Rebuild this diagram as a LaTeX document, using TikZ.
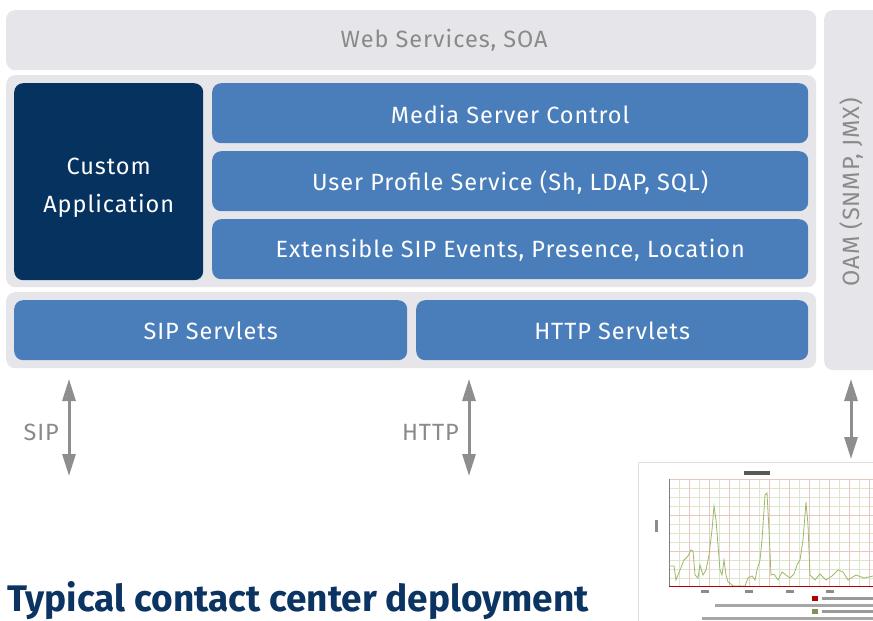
\documentclass[tikz,border=0pt]{standalone}
\usepackage{fontspec}
\setmainfont{Fira Sans}
\newfontfamily\dinlike[LetterSpace=4]{Fira Sans}
\usetikzlibrary{arrows.meta}
\definecolor{lgray}{HTML}{E6E5EA}
\definecolor{navy}{HTML}{05325F}
\definecolor{midblue}{HTML}{4A7EBB}
\definecolor{txtgray}{HTML}{8A8A8A}
\definecolor{arrgray}{HTML}{8E8E8E}
\definecolor{titleblue}{HTML}{0B3462}
\definecolor{gridred}{HTML}{E8C8C0}
\definecolor{gridgreen}{HTML}{DCE6CC}
\definecolor{plotgreen}{HTML}{9CB86A}
\tikzset{
  panel/.style={fill=lgray, rounded corners=9pt, anchor=north west, inner sep=0pt},
  bluebox/.style={fill=midblue, rounded corners=9pt, anchor=north west, inner sep=0pt},
  navybox/.style={fill=navy, rounded corners=9pt, anchor=north west, inner sep=0pt},
  lbl/.style={text=txtgray, font=\dinlike\fontsize{23.5}{28}\selectfont, inner sep=0pt},
  wlbl/.style={text=white, font=\dinlike\fontsize{23.5}{28}\selectfont, inner sep=0pt},
  arr/.style={draw=arrgray, line width=3pt, {Triangle[width=13pt,length=22pt]}-{Triangle[width=13pt,length=22pt]}},
}
\begin{document}
\begin{tikzpicture}[x=1pt,y=-1pt]
\clip (0,0) rectangle (873,621);
\fill[white] (0,0) rectangle (873,621);
% panels
\node[panel, minimum width=810pt, minimum height=60pt] (web) at (6,10) {};
\node[lbl] at ([xshift=33pt]web.center) {Web Services, SOA};
\node[panel, minimum width=810pt, minimum height=212pt] (mid) at (6,75) {};
\node[panel, minimum width=810pt, minimum height=76pt] (low) at (6,292) {};
\node[panel, minimum width=70pt, minimum height=360pt] (oam) at (824,10) {};
\node[lbl, rotate=90] at (852,192) {OAM (SNMP, JMX)};
% inner boxes
\node[navybox, minimum width=189pt, minimum height=197pt] (custom) at (14,83) {};
\node[wlbl, align=center, font=\dinlike\fontsize{23.5}{38}\selectfont] at ([yshift=-6pt]custom.center) {Custom\\Application};
\node[bluebox, minimum width=596pt, minimum height=60pt] (msc) at (212,83) {};
\node[wlbl] at ([yshift=-1pt]msc.center) {Media Server Control};
\node[bluebox, minimum width=596pt, minimum height=60pt] (ups) at (212,151) {};
\node[wlbl] at ([yshift=-1pt]ups.center) {User Profile Service (Sh, LDAP, SQL)};
\node[bluebox, minimum width=596pt, minimum height=60pt] (ext) at (212,219) {};
\node[wlbl] at ([yshift=-1pt]ext.center) {Extensible SIP Events, Presence, Location};
\node[bluebox, minimum width=393pt, minimum height=60pt] (sips) at (14,300) {};
\node[wlbl] at ([yshift=-1pt]sips.center) {SIP Servlets};
\node[bluebox, minimum width=392pt, minimum height=60pt] (https) at (416,300) {};
\node[wlbl] at ([yshift=-1pt]https.center) {HTTP Servlets};
% arrows
\coordinate (sipT) at (69,379);
\coordinate (sipB) at (69,476);
\coordinate (httpT) at (469,379);
\coordinate (httpB) at (469,476);
\coordinate (oamT) at (851,379);
\coordinate (oamB) at (851,459);
\draw[arr] (sipT) -- (sipB);
\draw[arr] (httpT) -- (httpB);
\draw[arr] (oamT) -- (oamB);
\node[lbl, anchor=east] at (59,432) {SIP};
\node[lbl, anchor=east] at (459,432) {HTTP};
% chart screenshot
\fill[white] (638,462) rectangle (880,625);
\draw[black!12, line width=1pt] (638,462) -- (880,462);
\draw[black!12, line width=1pt] (638,462) -- (638,625);
\foreach \y in {488,497,506,515,524,533,542,551,560,569,578} \draw[gridgreen, line width=0.6pt] (669,\y) -- (880,\y);
\foreach \x in {679,699,719,739,759,779,799,819,839,859} \draw[gridgreen, line width=0.6pt] (\x,479) -- (\x,586);
\foreach \x in {669,689,709,729,749,769,789,809,829,849,869} \draw[gridred, line width=0.6pt] (\x,479) -- (\x,586);
\foreach \y in {479,515,551} \draw[gridred, line width=0.6pt] (669,\y) -- (880,\y);
\draw[black!50, line width=0.6pt] (669,479) -- (669,586);
\draw[plotgreen, line width=0.8pt] (669,566) -- (674,566) -- (676,580) -- (680,570) -- (684,560) -- (688,556) -- (691,550) -- (693,551) -- (695,575) -- (698,578) -- (700,565) -- (703,575) -- (706,570) -- (709,555) -- (712,530) -- (714,506) -- (716,520) -- (718,545) -- (720,570) -- (722,575) -- (724,560) -- (726,575) -- (728,582) -- (731,584) -- (733,586) -- (745,586) -- (748,578) -- (752,576) -- (755,580) -- (757,570) -- (760,560) -- (762,540) -- (765,495) -- (767,493) -- (769,530) -- (771,575) -- (774,574) -- (778,580) -- (782,572) -- (786,575) -- (790,578) -- (794,574) -- (797,565) -- (800,560) -- (803,540) -- (806,502) -- (808,525) -- (810,575) -- (815,580) -- (820,574) -- (826,580) -- (832,576) -- (838,570) -- (843,572) -- (848,580) -- (856,575) -- (864,578) -- (873,576);
\draw[red!70!black, line width=1pt] (669,586) -- (880,586);
% chart title and small legend marks
\fill[black!65] (744,471) rectangle (770,475);
\fill[black!45] (655,520) rectangle (658,532);
\foreach \x in {701,745,786,826} \fill[black!45] (\x,590) rectangle (\x+8,593);
\fill[red!70!black] (812,596) rectangle (818,601);
\fill[black!40] (822,597) rectangle (873,600);
\fill[black!35] (715,604) rectangle (873,607);
\fill[plotgreen!80!black] (812,609) rectangle (818,614);
\fill[black!40] (822,610) rectangle (873,613);
\fill[black!35] (702,617) rectangle (873,620);
% title
\node[anchor=base west, inner sep=0pt, text=titleblue, font=\fontsize{37}{40}\selectfont\bfseries] (title) at (7,611.5) {Typical contact center deployment};
\end{tikzpicture}
\end{document}
